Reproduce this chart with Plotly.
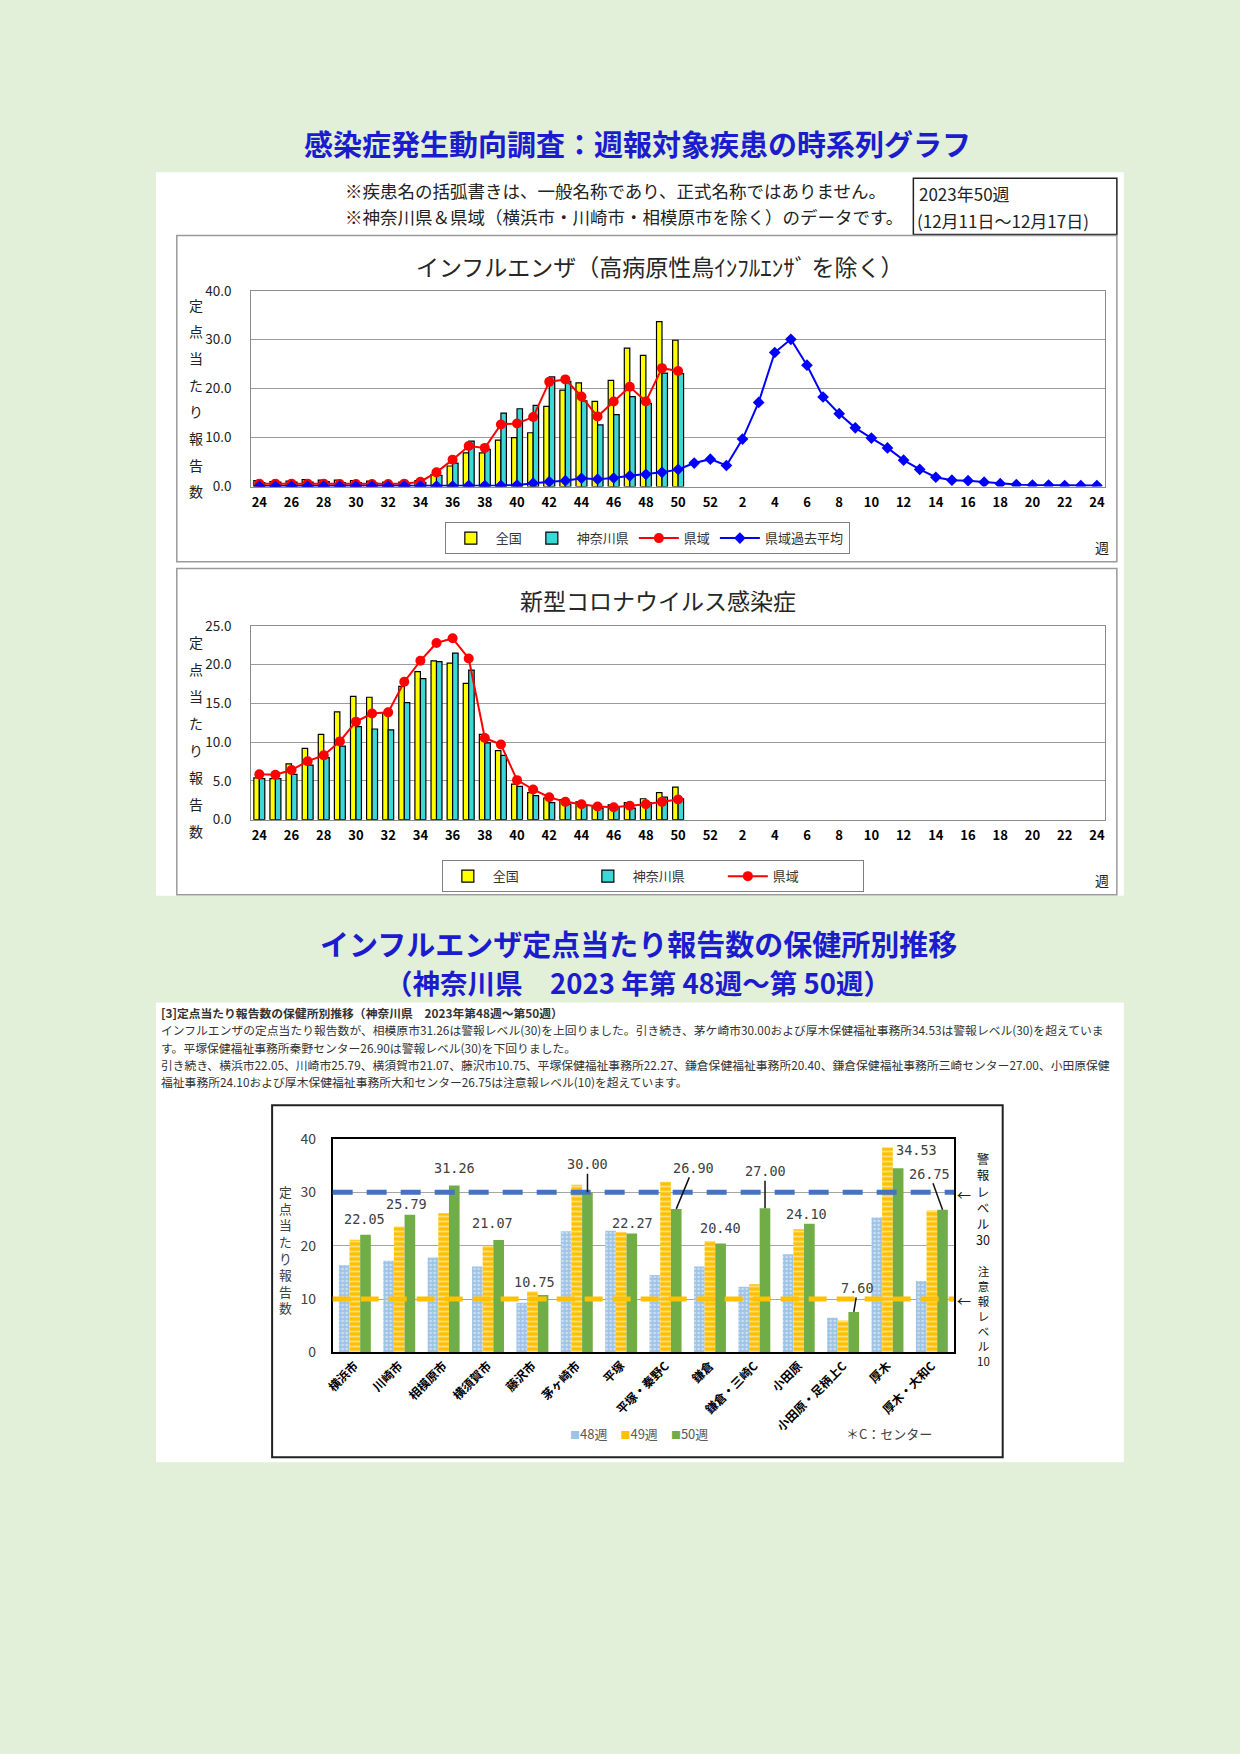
import plotly.graph_objects as go

# ブラウザの body 余白 (8px) を見込んで図を小さくする
PAGE_W, PAGE_H = 1240, 1754
PAD = 8
W, H = PAGE_W - 2 * PAD, PAGE_H - 2 * PAD


def px(x):
    return (x - PAD) / W


def py(y):
    return 1 - (y - PAD) / H


# ---- 週報グラフ（インフルエンザ・新型コロナ） ----
weeks = list(range(24, 53)) + list(range(1, 25))
wk_idx = list(range(len(weeks)))
tick_idx = wk_idx[::2]
tick_txt = [str(weeks[i]) for i in tick_idx]

flu_zenkoku = [1.2, 1.0, 1.1, 1.4, 1.3, 1.3, 1.2, 1.1, 0.9, 0.9,
               1.2, 2.5, 4.2, 6.9, 6.9, 9.5, 10.0, 11.0, 16.4, 19.7,
               21.2, 17.4, 21.7, 28.3, 26.8, 33.7, 29.9]
flu_kanagawa = [0.8, 0.9, 0.9, 0.9, 1.0, 0.8, 0.8, 0.7, 0.6, 0.6,
                0.8, 2.3, 4.8, 9.3, 7.6, 15.0, 15.9, 16.6, 22.4, 21.5,
                17.5, 12.6, 14.7, 18.4, 17.0, 23.2, 23.1]
flu_kenki = [0.6, 0.6, 0.6, 0.6, 0.6, 0.5, 0.5, 0.5, 0.5, 0.6,
             1.0, 2.9, 5.5, 8.3, 7.9, 12.7, 12.9, 14.2, 21.4, 21.9,
             18.4, 14.3, 17.4, 20.4, 17.4, 24.2, 23.6]
flu_past = [0.1, 0.1, 0.1, 0.1, 0.1, 0.1, 0.1, 0.1, 0.1, 0.1,
            0.1, 0.1, 0.1, 0.2, 0.2, 0.2, 0.3, 0.7, 1.0, 1.2,
            1.7, 1.5, 1.75, 2.2, 2.5, 2.9, 3.5, 4.8, 5.6, 4.3,
            9.7, 17.2, 27.4, 30.1, 24.8, 18.3, 14.9, 12.0, 9.9, 7.9,
            5.4, 3.5, 1.9, 1.3, 1.2, 0.9, 0.6, 0.4, 0.3, 0.3,
            0.2, 0.2, 0.2]

cov_zenkoku = [5.4, 5.3, 7.2, 9.2, 11.0, 13.9, 15.9, 15.8, 13.7, 17.2,
               19.1, 20.5, 20.2, 17.6, 11.0, 8.9, 4.6, 3.5, 2.8, 2.6,
               2.3, 1.8, 1.9, 2.2, 2.7, 3.5, 4.2]
cov_kanagawa = [5.3, 5.3, 5.85, 7.05, 8.0, 9.5, 12.0, 11.7, 11.6, 15.1,
                18.2, 20.4, 21.5, 19.3, 9.9, 8.3, 4.3, 3.1, 2.2, 2.0,
                1.9, 1.5, 1.6, 1.5, 2.2, 2.9, 2.7]
cov_kenki = [5.85, 5.8, 6.4, 7.55, 8.3, 10.1, 12.65, 13.7, 13.85, 17.8,
             20.5, 22.8, 23.4, 20.8, 10.55, 9.7, 5.1, 3.9, 2.9, 2.3,
             2.0, 1.7, 1.6, 1.8, 2.0, 2.3, 2.6]

# ---- 保健所別推移 ----
hc_names = ["横浜市", "川崎市", "相模原市", "横須賀市", "藤沢市", "茅ヶ崎市", "平塚",
            "平塚・秦野C", "鎌倉", "鎌倉・三崎C", "小田原", "小田原・足柄上C", "厚木", "厚木・大和C"]
w48 = [16.4, 17.2, 17.8, 16.1, 9.3, 22.7, 22.8, 14.5, 16.1, 12.3, 18.4, 6.5, 25.3, 13.4]
w49 = [21.1, 23.6, 26.1, 20.0, 11.4, 31.4, 22.5, 32.0, 20.9, 12.8, 23.1, 6.0, 38.4, 26.6]
w50 = [22.05, 25.79, 31.26, 21.07, 10.75, 30.00, 22.27, 26.90, 20.40, 27.00, 24.10, 7.60, 34.53, 26.75]
alert_level = 30
warn_level = 10

# ラベルの位置（px）: (dx, dy, 引き出し線)
label_pos = [(-1, -16, False), (-3, -11, False), (0, -18, False), (-6, -17, False),
             (-9, -13, False), (0, -28, True), (1, -11, False), (17, -41, True),
             (0, -16, False), (0, -37, True), (-3, -10, False), (4, -24, True),
             (18, -18, False), (-13, -36, True)]

FONT = "Noto Sans CJK JP"
YEL = "#ffff00"
CYAN = "#3cd7d7"
C48, C49, C50 = "#9dc3e6", "#ffc000", "#70ad47"
bar_line = dict(color="black", width=1.2)

fig = go.Figure()

# インフルエンザ
obs = wk_idx[:len(flu_zenkoku)]
fig.add_trace(go.Bar(x=obs, y=flu_zenkoku, name="全国", width=0.34, offset=-0.34,
                     marker=dict(color=YEL, line=bar_line), xaxis="x", yaxis="y", legend="legend"))
fig.add_trace(go.Bar(x=obs, y=flu_kanagawa, name="神奈川県", width=0.34, offset=0,
                     marker=dict(color=CYAN, line=bar_line), xaxis="x", yaxis="y", legend="legend"))
fig.add_trace(go.Scatter(x=obs, y=flu_kenki, name="県域", mode="lines+markers",
                         line=dict(color="#ff0000", width=2), marker=dict(size=10, color="#ff0000"),
                         xaxis="x", yaxis="y", legend="legend"))
fig.add_trace(go.Scatter(x=wk_idx, y=flu_past, name="県域過去平均", mode="lines+markers",
                         line=dict(color="#0000ff", width=2),
                         marker=dict(size=9, color="#0000ff", symbol="diamond"),
                         xaxis="x", yaxis="y", legend="legend"))

# 新型コロナ
fig.add_trace(go.Bar(x=obs, y=cov_zenkoku, name="全国", width=0.34, offset=-0.34,
                     marker=dict(color=YEL, line=bar_line), xaxis="x2", yaxis="y2", legend="legend2"))
fig.add_trace(go.Bar(x=obs, y=cov_kanagawa, name="神奈川県", width=0.34, offset=0,
                     marker=dict(color=CYAN, line=bar_line), xaxis="x2", yaxis="y2", legend="legend2"))
fig.add_trace(go.Scatter(x=obs, y=cov_kenki, name="県域", mode="lines+markers",
                         line=dict(color="#ff0000", width=2), marker=dict(size=10, color="#ff0000"),
                         xaxis="x2", yaxis="y2", legend="legend2"))

# 保健所別
fig.add_trace(go.Bar(x=hc_names, y=w48, name="48週", width=0.24, offset=-0.36, showlegend=False,
                     marker=dict(color=C48, line=dict(width=0),
                                 pattern=dict(shape=".", fgcolor="white", size=4, solidity=0.3)),
                     xaxis="x3", yaxis="y3"))
fig.add_trace(go.Bar(x=hc_names, y=w49, name="49週", width=0.24, offset=-0.12, showlegend=False,
                     marker=dict(color=C49, line=dict(width=0),
                                 pattern=dict(shape="-", fgcolor="white", size=5, solidity=0.35)),
                     xaxis="x3", yaxis="y3"))
fig.add_trace(go.Bar(x=hc_names, y=w50, name="50週", width=0.24, offset=0.12, showlegend=False,
                     marker=dict(color=C50, line=dict(width=0)),
                     xaxis="x3", yaxis="y3"))

ax12 = dict(showline=True, linecolor="#8c8c8c", linewidth=1, mirror=True, ticks="",
            zeroline=False)
xw = dict(range=[-0.5, 52.5], tickvals=tick_idx, ticktext=tick_txt, showgrid=False,
          tickfont=dict(size=13, color="black", weight="bold"), ticklabelstandoff=4, **ax12)
yw = dict(tickformat=".1f", gridcolor="#9a9a9a", ticklabelstandoff=16,
          tickfont=dict(size=13.5, color="#222"), **ax12)

fig.update_layout(
    width=W, height=H, margin=dict(l=0, r=0, t=0, b=0),
    paper_bgcolor="#e2efd9", plot_bgcolor="white",
    font=dict(family=FONT, color="#222"),
    barmode="group", showlegend=True,
    xaxis=dict(domain=[px(244), px(1104)], anchor="y", **xw),
    yaxis=dict(domain=[py(481), py(283)], anchor="x", range=[0, 40], dtick=10, **yw),
    xaxis2=dict(domain=[px(244), px(1104)], anchor="y2", **xw),
    yaxis2=dict(domain=[py(818), py(622)], anchor="x2", range=[0, 25], dtick=5, **yw),
    xaxis3=dict(domain=[px(326), px(952)], anchor="y3", type="category", range=[-0.5, 13.5],
                showline=True, linecolor="black", linewidth=1.5, mirror=True, ticks="",
                tickangle=-45, tickfont=dict(size=12, color="black", weight="bold")),
    yaxis3=dict(domain=[py(1357), py(1141)], anchor="x3", range=[0, 40], dtick=10,
                showline=True, linecolor="black", linewidth=1.5, mirror=True, ticks="",
                gridcolor="#a6a6a6", zeroline=False, ticklabelstandoff=12,
                tickfont=dict(size=14, color="#404040")),
    legend=dict(orientation="h", x=px(439), y=py(517), xanchor="left", yanchor="top",
                bgcolor="white", bordercolor="#808080", borderwidth=1, itemwidth=40,
                font=dict(size=13, color="#333")),
    legend2=dict(orientation="h", x=px(436), y=py(859), xanchor="left", yanchor="top",
                 bgcolor="white", bordercolor="#808080", borderwidth=1, itemwidth=40,
                 entrywidth=85, entrywidthmode="pixels",
                 font=dict(size=13, color="#333")),
)

shapes = [
    dict(type="rect", xref="paper", yref="paper", x0=px(148), x1=px(1123), y0=py(895), y1=py(163),
         fillcolor="white", line=dict(width=0), layer="below"),
    dict(type="rect", xref="paper", yref="paper", x0=px(148), x1=px(1123), y0=py(1468), y1=py(1003),
         fillcolor="white", line=dict(width=0), layer="below"),
    dict(type="rect", xref="paper", yref="paper", x0=px(911), x1=px(1116), y0=py(226), y1=py(169),
         line=dict(color="#222", width=1.5), layer="below"),
    dict(type="rect", xref="paper", yref="paper", x0=px(169), x1=px(1116), y0=py(557), y1=py(227),
         line=dict(color="#9a9a9a", width=1.5), layer="below"),
    dict(type="rect", xref="paper", yref="paper", x0=px(169), x1=px(1116), y0=py(894), y1=py(564),
         line=dict(color="#9a9a9a", width=1.5), layer="below"),
    dict(type="rect", xref="paper", yref="paper", x0=px(265), x1=px(1001), y0=py(1463), y1=py(1107),
         line=dict(color="#222", width=2), layer="below"),
    dict(type="line", xref="x3 domain", yref="y3", x0=0, x1=1, y0=alert_level, y1=alert_level,
         line=dict(color="#4472c4", width=5, dash="20px,14px"), layer="above"),
    dict(type="line", xref="x3 domain", yref="y3", x0=0, x1=1, y0=warn_level, y1=warn_level,
         line=dict(color="#ffc000", width=5, dash="18px,10px"), layer="above"),
]
fig.update_layout(shapes=shapes)

ann = []


def text(x, y, s, size, color="#222", xanchor="center", bold=False, family=FONT):
    ann.append(dict(xref="paper", yref="paper", x=px(x), y=py(y), text=s, showarrow=False,
                    xanchor=xanchor, yanchor="middle",
                    font=dict(size=size, color=color, family=family,
                              weight="bold" if bold else "normal")))


text(633, 133, "感染症発生動向調査：週報対象疾患の時系列グラフ", 29, "#1c1ccf", bold=True)
text(336, 181, "※疾患名の括弧書きは、一般名称であり、正式名称ではありません。", 17.5, xanchor="left")
text(336, 208, "※神奈川県＆県域（横浜市・川崎市・相模原市を除く）のデータです。", 17.5, xanchor="left")
text(915, 185, "2023年50週", 17, xanchor="left")
text(913, 212, "(12月11日～12月17日)", 17, xanchor="left")
text(655, 258, "インフルエンザ（高病原性鳥ｲﾝﾌﾙｴﾝｻﾞ を除く）", 23, "#262626")
text(654, 596, "新型コロナウイルス感染症", 23, "#262626")
text(1101, 542, "週", 14)
text(1101, 879, "週", 14)
for i, ch in enumerate("定点当たり報告数"):
    text(188, 297 + i * 27, ch, 14)
    text(188, 638 + i * 27.4, ch, 14)
text(278, 1253, "<br>".join("定点当たり報告数"), 12.8, "#404040")

text(634, 943, "インフルエンザ定点当たり報告数の保健所別推移", 29, "#1c1ccf", bold=True)
text(634, 982, "（神奈川県　2023 年第 48週～第 50週）", 27.5, "#1c1ccf", bold=True)

body = [
    "[3]定点当たり報告数の保健所別推移（神奈川県　2023年第48週～第50週）",
    "インフルエンザの定点当たり報告数が、相模原市31.26は警報レベル(30)を上回りました。引き続き、茅ケ崎市30.00および厚木保健福祉事務所34.53は警報レベル(30)を超えていま",
    "す。平塚保健福祉事務所秦野センター26.90は警報レベル(30)を下回りました。",
    "引き続き、横浜市22.05、川崎市25.79、横須賀市21.07、藤沢市10.75、平塚保健福祉事務所22.27、鎌倉保健福祉事務所20.40、鎌倉保健福祉事務所三崎センター27.00、小田原保健",
    "福祉事務所24.10および厚木保健福祉事務所大和センター26.75は注意報レベル(10)を超えています。",
]
for i, line in enumerate(body):
    text(151, 1013 + i * 17.5, line, 11.8, "#333", xanchor="left", bold=(i == 0))

# 右側のレベル表示（縦書き）
text(962, 1197, "←", 14)
text(962, 1304, "←", 14)
text(981, 1202, "<br>".join(["警", "報", "レ", "ベ", "ル", "30"]), 12.5, "#111")
text(982, 1320, "<br>".join(["注", "意", "報", "レ", "ベ", "ル", "10"]), 11.5, "#111")

# 凡例（保健所別）
legend3 = "　".join(f"<span style='color:{c};font-size:10px'>■</span>{n}"
                   for c, n in zip([C48, C49, C50], ["48週", "49週", "50週"]))
text(563, 1439, legend3, 13, "#595959", xanchor="left")
text(841, 1439, "＊C：センター", 13, "#404040", xanchor="left")

# 50週の値ラベル
for name, v, (dx, dy, lead) in zip(hc_names, w50, label_pos):
    a = dict(xref="x3", yref="y3", x=name, y=v, text=f"{v:.2f}", xshift=10.7,
             font=dict(size=13.5, color="#404040", family="DejaVu Sans Mono"))
    if lead:
        a.update(showarrow=True, arrowhead=0, arrowwidth=1.5, arrowcolor="#111",
                 ax=dx, ay=dy, standoff=0)
    else:
        a.update(showarrow=False, xshift=10.7 + dx, yshift=-dy, yanchor="middle")
    ann.append(a)

fig.update_layout(annotations=ann)

fig.write_html("out.html", config={"displayModeBar": False},
               post_script="document.body.style.background='#e2efd9';")
